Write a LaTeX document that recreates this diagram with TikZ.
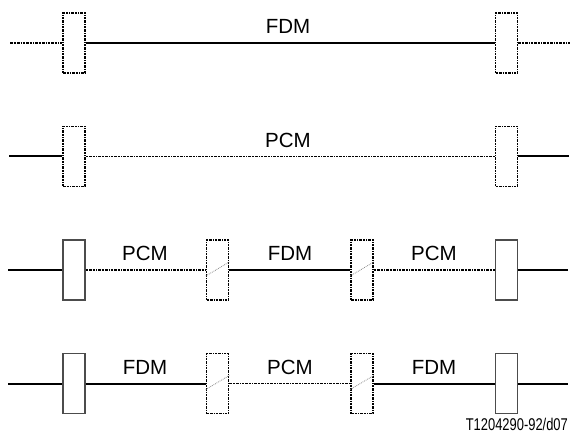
\documentclass[tikz,border=0pt]{standalone}
\usepackage{fontspec}
\setmainfont{Liberation Sans}
\usetikzlibrary{positioning, calc}

\tikzset{
  cable/.style={line width=2pt},
  pcmline/.style={line width=1.5pt, dash pattern=on 2.5pt off 1pt on 2.5pt off 1pt on 2.5pt off 1pt on 1pt off 1pt},
  conv/.style={draw, line width=1.2pt, draw=black!70, minimum width=22pt, minimum height=60pt, inner sep=0pt},
  dconv/.style={conv, draw=black, line width=1.5pt, dash pattern=on 2.5pt off 1pt on 2.5pt off 1pt on 1pt off 1pt},
  slash/.style={draw=black!45, line width=0.8pt, densely dotted},
  lbl/.style={font=\fontsize{20.5}{24}\selectfont, inner sep=0pt}
}

\begin{document}
\begin{tikzpicture}[x=1pt, y=-1pt]
  \useasboundingbox (0,0) rectangle (570,438);

  % Row 1: FDM between two dotted converters
  \coordinate (a0) at (10,43);
  \coordinate (a3) at (570,43);
  \node[dconv] (a1) at (74,43) {};
  \node[dconv] (a2) at (506.5,43) {};
  \draw[pcmline] (a0) -- (a1);
  \draw[cable] (a1) -- (a2);
  \draw[pcmline] (a2) -- (a3);
  \node[lbl] (fdmA) at (288,26.5) {FDM};

  % Row 2: PCM between two dotted converters
  \coordinate (b0) at (9,156.5);
  \coordinate (b3) at (569,156.5);
  \node[dconv] (b1) at (74,156.5) {};
  \node[dconv] (b2) at (506.5,156.5) {};
  \draw[cable] (b0) -- (b1);
  \draw[pcmline] (b1) -- (b2);
  \draw[cable] (b2) -- (b3);
  \node[lbl] (pcmB) at (288,140) {PCM};

  % Row 3: PCM - FDM - PCM
  \coordinate (c0) at (8,270);
  \coordinate (c5) at (568,270);
  \node[conv] (c1) at (74,270) {};
  \node[dconv] (c2) at (217.5,270) {};
  \node[dconv] (c3) at (362,270) {};
  \node[conv] (c4) at (506.5,270) {};
  \draw[cable] (c0) -- (c1);
  \draw[pcmline] (c1) -- (c2);
  \draw[cable] (c2) -- (c3);
  \draw[pcmline] (c3) -- (c4);
  \draw[cable] (c4) -- (c5);
  \draw[slash] ([yshift=-6pt]c2.west) -- ([yshift=8pt]c2.east);
  \draw[slash] ([yshift=-6pt]c3.west) -- ([yshift=8pt]c3.east);
  \node[lbl] (pcmC1) at (145,253) {PCM};
  \node[lbl] (fdmC) at (290,253) {FDM};
  \node[lbl] (pcmC2) at (434,253) {PCM};

  % Row 4: FDM - PCM - FDM
  \coordinate (d0) at (8,383.5);
  \coordinate (d5) at (568,383.5);
  \node[conv] (d1) at (74,383.5) {};
  \node[dconv] (d2) at (217.5,383.5) {};
  \node[dconv] (d3) at (362,383.5) {};
  \node[conv] (d4) at (506.5,383.5) {};
  \draw[cable] (d0) -- (d1);
  \draw[cable] (d1) -- (d2);
  \draw[pcmline] (d2) -- (d3);
  \draw[cable] (d3) -- (d4);
  \draw[cable] (d4) -- (d5);
  \draw[slash] ([yshift=-6pt]d2.west) -- ([yshift=8pt]d2.east);
  \draw[slash] ([yshift=-6pt]d3.west) -- ([yshift=8pt]d3.east);
  \node[lbl] (fdmD1) at (145,367) {FDM};
  \node[lbl] (pcmD) at (290,367) {PCM};
  \node[lbl] (fdmD2) at (434,367) {FDM};

  % figure number
  \node[font=\fontsize{17}{20}\selectfont, inner sep=0pt, anchor=east, xscale=0.76, transform shape] (ref) at (568,424.5) {T1204290-92/d07};
\end{tikzpicture}
\end{document}
